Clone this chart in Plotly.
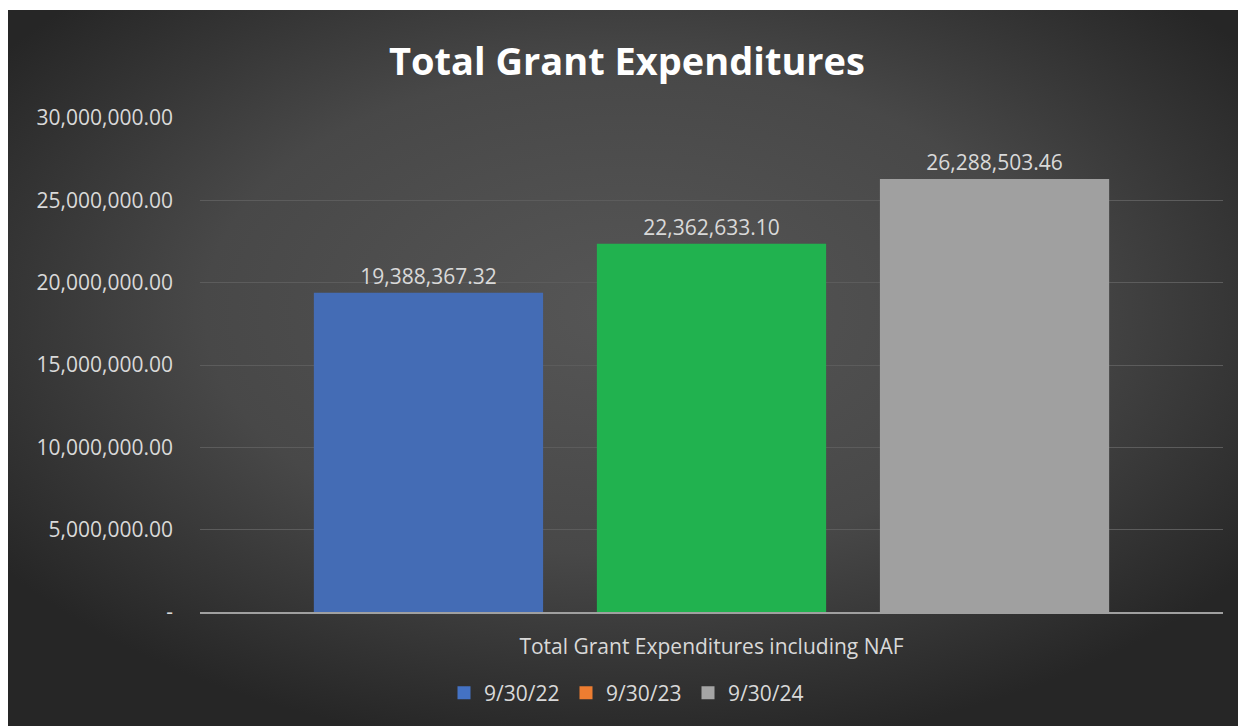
import base64
import plotly.graph_objects as go

# ---- data ----
category = ["Total Grant Expenditures including NAF"]
series_names = ["9/30/22", "9/30/23", "9/30/24"]
series_values = [[19388367.32], [22362633.10], [26288503.46]]
bar_colors = ["#446cb5", "#21b24f", "#a0a0a0"]
legend_colors = ["#4472c4", "#ed7d31", "#a5a5a5"]
y_tickvals = [0, 5000000, 10000000, 15000000, 20000000, 25000000, 30000000]
y_ticktext = ["-", "5,000,000.00", "10,000,000.00", "15,000,000.00",
              "20,000,000.00", "25,000,000.00", "30,000,000.00"]

FONT = "Open Sans"
TXT = "#d9d9d9"

fig = go.Figure()
for name, vals, col in zip(series_names, series_values, bar_colors):
    fig.add_trace(go.Bar(
        x=category, y=vals, name=name, marker=dict(color=col, line=dict(width=0)),
        text=[f"{v:,.2f}" for v in vals], textposition="outside",
        textfont=dict(family=FONT, size=21, color=TXT),
        cliponaxis=False, showlegend=False, legendgroup=name,
    ))
for name, col in zip(series_names, legend_colors):
    fig.add_trace(go.Scatter(
        x=category, y=[None], name=name, mode="markers",
        marker=dict(symbol="square", size=13, color=col),
        legendgroup=name, showlegend=True,
    ))

W, H = 1238, 718
svg = f"""<svg xmlns='http://www.w3.org/2000/svg' width='{W}' height='{H}' viewBox='0 0 {W} {H}' preserveAspectRatio='none'>
<defs><radialGradient id='g' cx='0.5' cy='0.42' r='0.62' gradientUnits='objectBoundingBox'>
<stop offset='0' stop-color='#565656'/><stop offset='0.55' stop-color='#484848'/><stop offset='1' stop-color='#262626'/>
</radialGradient></defs><rect width='{W}' height='{H}' fill='url(#g)'/></svg>"""
src = "data:image/svg+xml;base64," + base64.b64encode(svg.encode()).decode()

L, R, T, B = 192, 23, 110, 114
pw, ph = W - L - R, H - T - B

fig.update_layout(
    width=W, height=H,
    margin=dict(l=L, r=R, t=T, b=B),
    paper_bgcolor="white", plot_bgcolor="rgba(0,0,0,0)",
    barmode="group", bargap=0.17, bargroupgap=0.19,
    images=[dict(source=src, xref="paper", yref="paper",
                 x=(0 - L) / pw, y=(H - B - 2) / ph,
                 sizex=W / pw, sizey=(H - 2) / ph,
                 sizing="stretch", xanchor="left", yanchor="top", layer="below")],
    title=dict(text="<b>Total Grant Expenditures</b>", x=0.5, xref="container",
               xanchor="center", y=1 - 54 / H, yanchor="middle",
               font=dict(family=FONT, size=38, color="white")),
    legend=dict(orientation="h", xref="container", yref="container",
                x=0.5, xanchor="center", y=1 - 685 / H, yanchor="middle",
                font=dict(family=FONT, size=21, color=TXT),
                bgcolor="rgba(0,0,0,0)", itemclick=False, entrywidth=77,
                entrywidthmode="pixels"),
    font=dict(family=FONT, color=TXT),
    hovermode=False,
)
fig.update_xaxes(showgrid=False, showline=True, linecolor="#a0a0a0", linewidth=2,
                 ticks="", tickfont=dict(family=FONT, size=21, color=TXT),
                 ticklabelstandoff=15, fixedrange=True)
fig.update_yaxes(range=[0, 30000000], tickvals=y_tickvals, ticktext=y_ticktext,
                 showgrid=True, gridcolor="#5c5c5c", gridwidth=1, zeroline=False,
                 showline=False, ticks="", ticklabelstandoff=26,
                 tickfont=dict(family=FONT, size=21, color=TXT), fixedrange=True)

fig.write_html("out.html")
